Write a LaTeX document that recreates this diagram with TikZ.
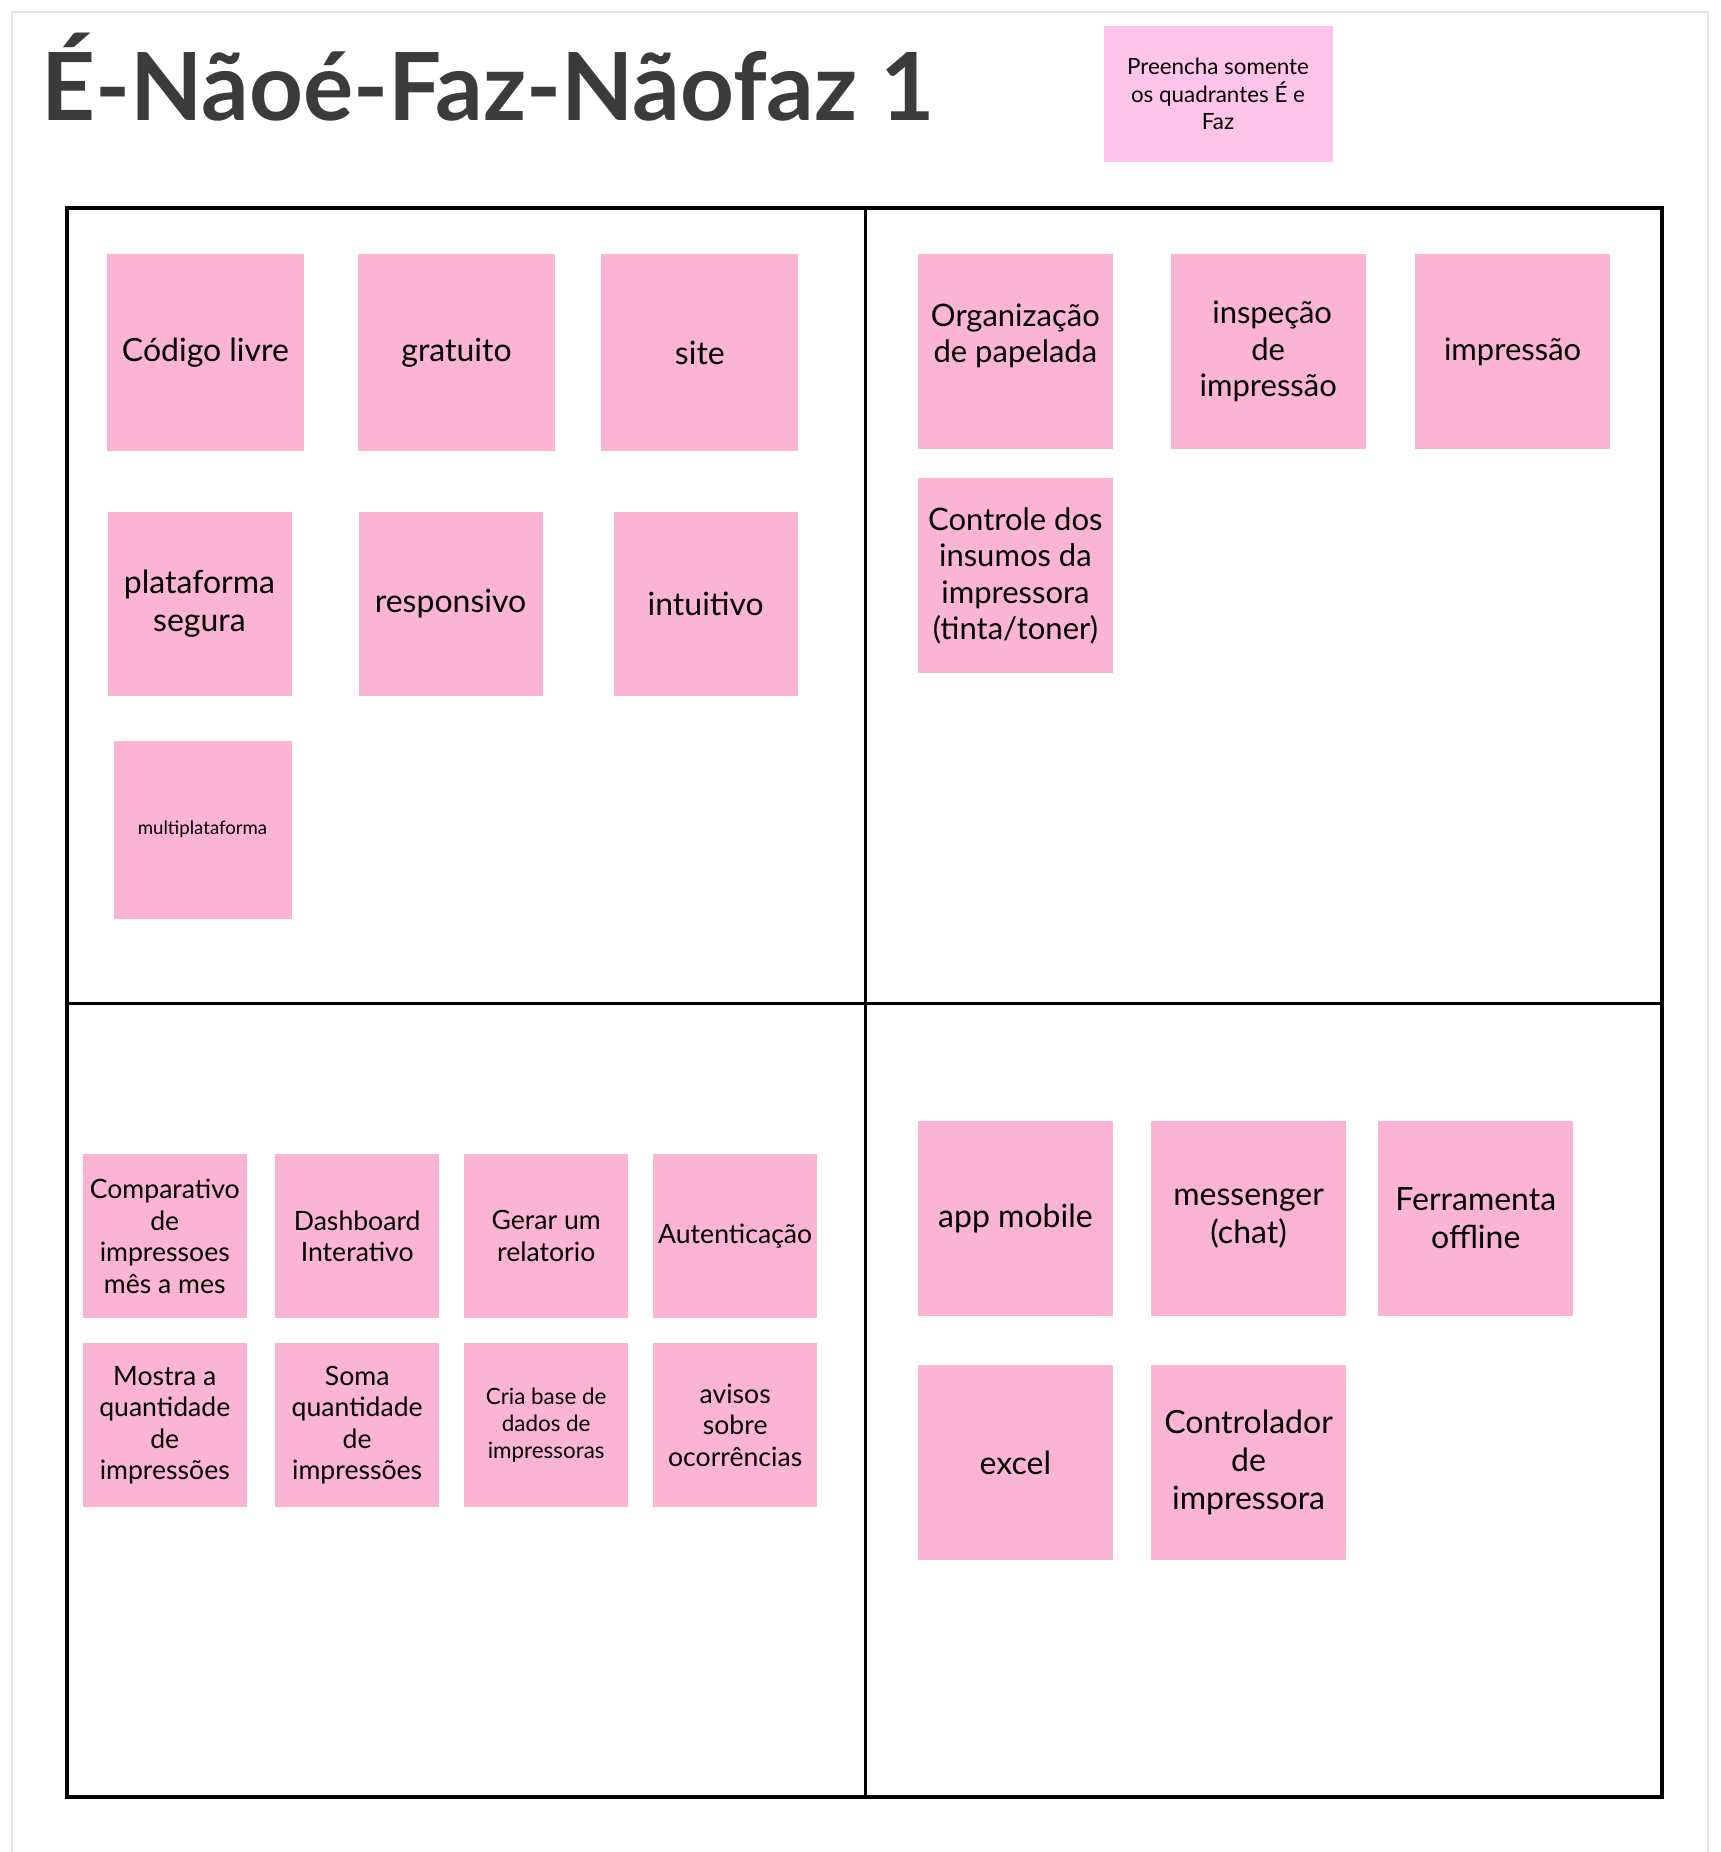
\documentclass[tikz,border=0pt]{standalone}
\usepackage{fontspec}
\setmainfont{Lato}
\usetikzlibrary{positioning}

\definecolor{notepink}{HTML}{FBB4D3}
\definecolor{notelight}{HTML}{FFC4E9}
\definecolor{titlegray}{HTML}{3B3B3B}
\definecolor{framegray}{HTML}{E6E6E6}

\begin{document}
\begin{tikzpicture}[x=0.5pt,y=-0.5pt,on grid,
    sticky/.style={fill=notepink,minimum width=#1,minimum height=#1,inner sep=0pt,align=center},
    bigtext/.style={font=\fontsize{16}{19}\selectfont},
    midtext/.style={font=\fontsize{15.5}{18.3}\selectfont},
    smalltext/.style={font=\fontsize{13.3}{15.8}\selectfont},
    tinytext/.style={font=\fontsize{11.2}{13.6}\selectfont}]
    \useasboundingbox (0,0) rectangle (1720,1852);
    \fill[white] (0,0) rectangle (1720,1852);
    \draw[framegray,line width=1pt] (12,1852) -- (12,12) -- (1708,12) -- (1708,1852);

    % title and note
    \node[anchor=base west,inner sep=0pt,text=titlegray,font=\fontsize{47}{50}\selectfont\bfseries]
        (title) at (41,120) {É-Nãoé-Faz-Nãofaz 1};
    \node[fill=notelight,minimum width=114.5pt,minimum height=68pt,inner sep=0pt,align=center,tinytext]
        (hint) at (1218,94) {Preencha somente\\os quadrantes É e\\Faz};

    % quadrants
    \coordinate (tl) at (67,208);
    \coordinate (br) at (1662,1797);
    \coordinate (mt) at (865,208);
    \coordinate (mb) at (865,1797);
    \coordinate (ml) at (67,1003);
    \coordinate (mr) at (1662,1003);
    \draw[line width=2pt] (tl) rectangle (br);
    \draw[line width=1.5pt] (mt) -- (mb);
    \draw[line width=1.5pt] (ml) -- (mr);

    % É
    \node[sticky=98.5pt,bigtext] (cod)   at (205.5,352.7)         {Código livre};
    \node[sticky=98.5pt,bigtext] (grat)  [right=125.5pt of cod]   {gratuito};
    \node[sticky=98.5pt,bigtext] (site)  [right=121.7pt of grat]  {site};
    \node[sticky=92pt,bigtext]   (plat)  [below=125.5pt of cod,xshift=-3pt] {plataforma\\segura};
    \node[sticky=92pt,bigtext]   (resp)  [right=125.5pt of plat]  {responsivo};
    \node[sticky=92pt,bigtext]   (intu)  [right=127.6pt of resp]  {intuitivo};
    \node[sticky=89pt,font=\fontsize{9.3}{11}\selectfont] (multi) [below=113pt of plat,xshift=1.5pt] {multiplataforma};

    % Não é
    \node[sticky=97.5pt,midtext] (org)   at (1015.4,351.5)        {Organização\\de papelada\\~};
    \node[sticky=97.5pt,midtext] (insp)  [right=126.4pt of org]   {\ inspeção\\de\\impressão};
    \node[sticky=97.5pt,midtext] (impr)  [right=122.2pt of insp]  {impressão};
    \node[sticky=97.5pt,midtext] (ctrl)  [below=112.2pt of org]   {Controle dos\\insumos da\\impressora\\(tinta/toner)};

    % Faz
    \node[sticky=82pt,smalltext] (comp)   at (164.8,1236.2)        {Comparativo\\de\\impressoes\\mês a mes};
    \node[sticky=82pt,smalltext] (dash)   [right=96.2pt of comp]   {Dashboard\\Interativo};
    \node[sticky=82pt,smalltext] (gerar)  [right=94.5pt of dash]   {Gerar um\\relatorio};
    \node[sticky=82pt,smalltext] (aut)    [right=94.5pt of gerar]  {Autenticação};
    \node[sticky=82pt,smalltext] (mostra) [below=94.5pt of comp]   {Mostra a\\quantidade\\de\\impressões};
    \node[sticky=82pt,smalltext] (soma)   [below=94.5pt of dash]   {Soma\\quantidade\\de\\impressões};
    \node[sticky=82pt,tinytext]  (cria)   [below=94.5pt of gerar]  {Cria base de\\dados de\\impressoras};
    \node[sticky=82pt,smalltext] (avisos) [below=94.5pt of aut]    {avisos\\sobre\\ocorrências};

    % Não faz
    \node[sticky=97.5pt,bigtext] (app)   at (1015.4,1218.5)       {app mobile};
    \node[sticky=97.5pt,bigtext] (msg)   [right=116.6pt of app]   {messenger\\(chat)};
    \node[sticky=97.5pt,bigtext] (ferr)  [right=113.6pt of msg]   {Ferramenta\\offline};
    \node[sticky=97.5pt,bigtext] (excel) [below=122.2pt of app]   {excel};
    \node[sticky=97.5pt,bigtext] (ctlr)  [below=122.2pt of msg]   {Controlador\\de\\impressora};
\end{tikzpicture}
\end{document}
